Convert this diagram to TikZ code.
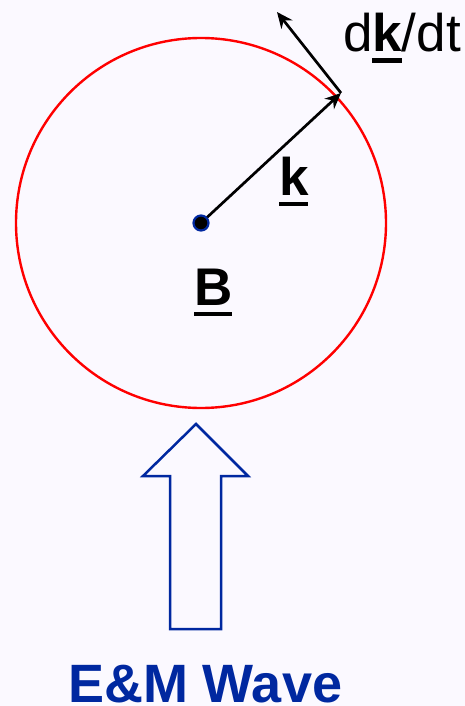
\documentclass[tikz,border=0pt]{standalone}
\usepackage{fontspec}
\setmainfont{Liberation Sans}
\usepackage{xcolor}
\definecolor{pagebg}{HTML}{FBF9FF}
\definecolor{wavecol}{HTML}{0028A0}
\usepackage{tikz}
\usetikzlibrary{arrows.meta,calc}
\tikzset{
  lbl/.style  ={inner sep=0pt, outer sep=0pt, anchor=base west,
                font=\fontsize{53}{60}\selectfont},
  blbl/.style ={lbl, font=\fontsize{54}{60}\selectfont\bfseries, text=wavecol},
  orbit/.style={draw=red, line width=2.4pt},
  varr/.style ={-{Stealth[length=16pt, width=14pt]}, line width=2.7pt},
  bigarr/.style={draw=wavecol, line width=2.5pt, miter limit=10},
}
\newcommand{\uvec}[1]{\setbox0\hbox{\bfseries #1}\rlap{\rule[-11pt]{\wd0}{4.5pt}}\box0}

\begin{document}
\begin{tikzpicture}[x=1pt, y=-1pt]
  \fill[pagebg] (0,0) rectangle (465,706);
  \useasboundingbox (0,0) rectangle (465,706);
  \coordinate (ctr)   at (201,223);
  \coordinate (ktip)  at (341,93);
  \coordinate (dktip) at (277,12);
  % field circle
  \draw[orbit] (ctr) circle[radius=185];
  % k and its derivative
  \draw[varr] (ctr) -- (ktip);
  \draw[varr] (ktip) -- (dktip);
  \filldraw[fill=black, draw=wavecol, line width=2.2pt] (ctr) circle[radius=7.5];
  \node[lbl] (dkdt)   at (343,52)  {d\uvec{k}/dt};
  \node[lbl] (klabel) at (279,195) {\uvec{k}};
  \node[lbl] (B)      at (194,305) {\uvec{B}};
  % incoming wave
  \draw[bigarr] (170,629) -- (170,476) -- (143,476) -- (196,424)
                -- (248,476) -- (221,476) -- (221,629) -- cycle;
  \node[blbl] (wave) at (68,702) {E\&M Wave};
\end{tikzpicture}
\end{document}
